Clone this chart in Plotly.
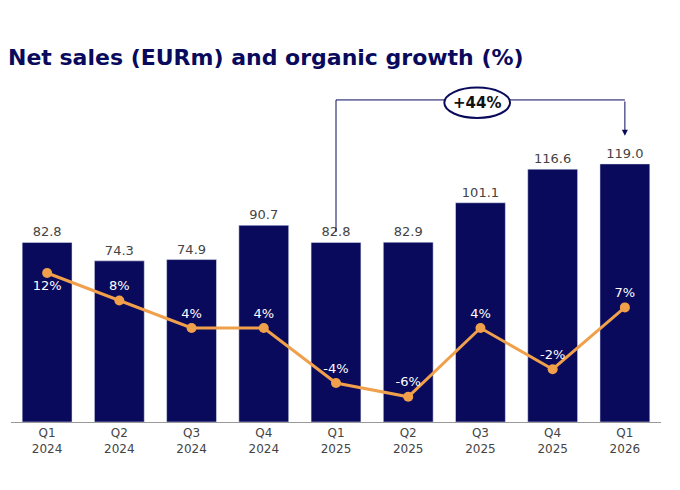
import plotly.graph_objects as go

quarters = ["Q1<br>2024", "Q2<br>2024", "Q3<br>2024", "Q4<br>2024", "Q1<br>2025",
            "Q2<br>2025", "Q3<br>2025", "Q4<br>2025", "Q1<br>2026"]
net_sales = [82.8, 74.3, 74.9, 90.7, 82.8, 82.9, 101.1, 116.6, 119.0]
growth = [12, 8, 4, 4, -4, -6, 4, -2, 7]
growth_pos = ["bottom center"] + ["top center"] * 8

navy = "#0a0a5c"
orange = "#f0a04b"
x = list(range(len(quarters)))

fig = go.Figure()
fig.add_trace(go.Bar(
    x=x, y=net_sales, marker_color=navy, width=0.69,
    text=[f"{v:.1f}" for v in net_sales], textposition="outside",
    textfont=dict(color="#444444", size=13), cliponaxis=False,
))
fig.add_trace(go.Scatter(
    x=x, y=growth, yaxis="y2", mode="lines+markers+text",
    line=dict(color=orange, width=3), marker=dict(color=orange, size=10),
    text=[f"{v}%" for v in growth], textposition=growth_pos,
    textfont=dict(color="white", size=13),
))

# bracket from Q1 2025 to Q1 2026
fig.add_shape(type="line", x0=4, x1=4, y0=87.6, y1=148.5, line=dict(color=navy, width=1))
fig.add_shape(type="line", x0=4, x1=8, y0=148.5, y1=148.5, line=dict(color=navy, width=1))
fig.add_annotation(x=8, y=132, ax=8, ay=148.5, xref="x", yref="y", axref="x", ayref="y",
                   showarrow=True, arrowhead=2, arrowsize=1.2, arrowwidth=1,
                   arrowcolor=navy, text="")
fig.add_shape(type="circle", x0=5.5, x1=6.41, y0=140.2, y1=154.2,
              line=dict(color=navy, width=2), fillcolor="white")
fig.add_annotation(x=5.955, y=147.2, text="<b>+44%</b>", showarrow=False,
                   font=dict(color="#111111", size=15))

fig.update_layout(
    width=680, height=490, showlegend=False,
    plot_bgcolor="white", paper_bgcolor="white",
    font=dict(family="DejaVu Sans"),
    margin=dict(l=3, r=27, t=72, b=76),
    title=dict(text="<b>Net sales (EURm) and organic growth (%)</b>",
               x=0.0, xanchor="left", y=0.9, yanchor="middle",
               font=dict(color=navy, size=22)),
    xaxis=dict(range=[-0.5, 8.5], tickvals=x, ticktext=quarters,
               tickfont=dict(color="#444444", size=12), showgrid=False,
               showline=True, linecolor="#999999", ticks=""),
    yaxis=dict(range=[0, 157.7], visible=False),
    yaxis2=dict(range=[-9.67, 40.07], overlaying="y", visible=False),
)

fig.write_html("out.html")
